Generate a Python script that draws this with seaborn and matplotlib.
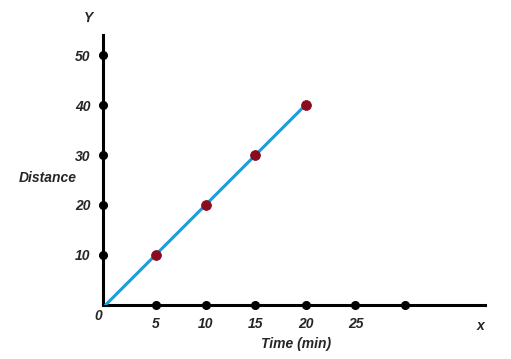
import matplotlib
matplotlib.use('Agg')
import matplotlib.pyplot as plt
import seaborn as sns
import pandas as pd

# data
time_min = [0, 5, 10, 15, 20]
distance = [0, 10, 20, 30, 40]
x_ticks = [5, 10, 15, 20, 25, 30]
x_tick_labels = ['5', '10', '15', '20', '25', '']
y_ticks = [10, 20, 30, 40, 50]
y_tick_labels = ['10', '20', '30', '40', '50']

df = pd.DataFrame({'Time': time_min, 'Distance': distance})

sns.set_style('white')
plt.rcParams['font.family'] = ['Liberation Sans', 'DejaVu Sans']

fig = plt.figure(figsize=(5.11, 3.59), dpi=100)
ax = fig.add_axes([103 / 511, 54 / 359, 382 / 511, 270 / 359])
ax.set_xlim(-0.25, 37.95)
ax.set_ylim(0, 54)

for s in ['top', 'right']:
    ax.spines[s].set_visible(False)
for s in ['left', 'bottom']:
    ax.spines[s].set_linewidth(2.2)
    ax.spines[s].set_color('black')
ax.spines['left'].set_position(('data', -0.25))

# tick dots on the axes
ax.plot(x_ticks, [0] * len(x_ticks), 'o', color='black', ms=5.5, clip_on=False, zorder=5)
ax.plot([-0.25] * len(y_ticks), y_ticks, 'o', color='black', ms=5.5, clip_on=False, zorder=5)

sns.lineplot(data=df, x='Time', y='Distance', ax=ax, color='#1a9ee0', linewidth=2.2, zorder=3)
sns.scatterplot(data=df.iloc[1:], x='Time', y='Distance', ax=ax, color='#8a0a1e',
                s=50, edgecolor='#8a0a1e', zorder=6, clip_on=False)

font = dict(fontsize=10, fontweight='bold', fontstyle='italic')
ax.set_xticks(x_ticks)
ax.set_xticklabels(x_tick_labels, **font)
ax.set_yticks(y_ticks)
ax.set_yticklabels(y_tick_labels, **font)
ax.tick_params(axis='both', length=0)
ax.tick_params(axis='x', pad=9)
ax.tick_params(axis='y', pad=9)
ax.set_xlabel('')
ax.set_ylabel('')

fig.text(98 / 511, 1 - 316 / 359, '0', ha='center', va='center', **font)
fig.text(88 / 511, 1 - 18 / 359, 'Y', ha='center', va='center', **font)
fig.text(480 / 511, 1 - 326 / 359, 'x', ha='center', va='center', **font)
fig.text(48 / 511, 1 - 178 / 359, 'Distance', ha='center', va='center', **font)
fig.text(296 / 511, 1 - 344 / 359, 'Time (min)', ha='center', va='center', **font)

fig.savefig('out.png', dpi=100, facecolor='white')
